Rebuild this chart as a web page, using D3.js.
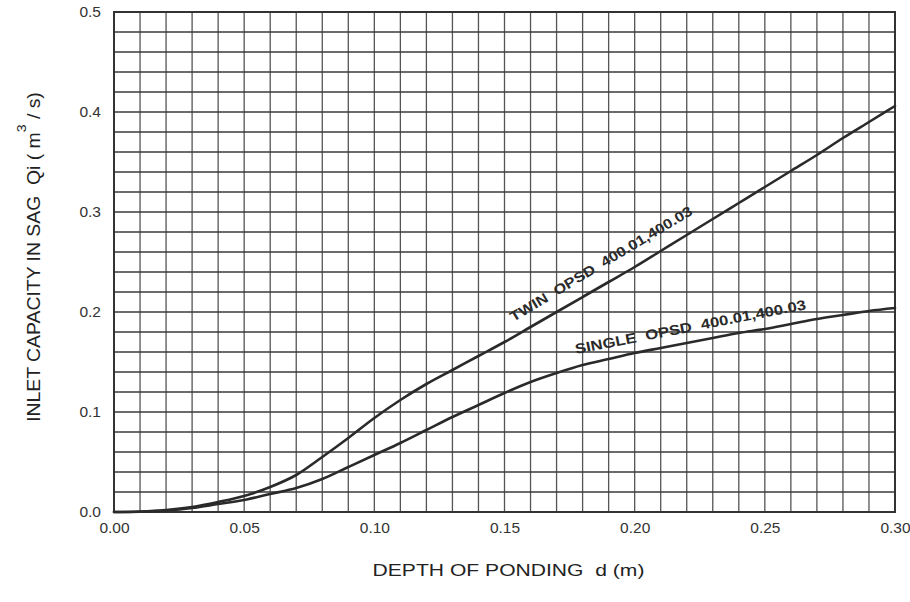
<!DOCTYPE html>
<html>
<head>
<meta charset="utf-8">
<script src="https://cdn.jsdelivr.net/npm/d3@7/dist/d3.min.js"></script>
<style>
  html, body { margin: 0; padding: 0; background: #ffffff; }
  svg { display: block; }
  text { font-family: "Liberation Sans", Arial, sans-serif; }
</style>
</head>
<body>
<svg id="chart" width="910" height="602"></svg>
<script>
// Depth of ponding d (m)
const depth = [0.00, 0.01, 0.02, 0.03, 0.04, 0.05, 0.06, 0.07, 0.08, 0.09, 0.10,
               0.11, 0.12, 0.13, 0.14, 0.15, 0.16, 0.17, 0.18, 0.19, 0.20,
               0.21, 0.22, 0.23, 0.24, 0.25, 0.26, 0.27, 0.28, 0.29, 0.30];

// Inlet capacity in sag Qi (m3/s), twin grates
const twinQ = [0.000, 0.0005, 0.002, 0.005, 0.010, 0.016, 0.025, 0.037, 0.055, 0.074, 0.094,
               0.112, 0.128, 0.142, 0.156, 0.170, 0.185, 0.200, 0.215, 0.230, 0.245,
               0.261, 0.277, 0.293, 0.309, 0.325, 0.341, 0.357, 0.374, 0.390, 0.406];

// Inlet capacity in sag Qi (m3/s), single grate
const singleQ = [0.000, 0.0003, 0.0015, 0.004, 0.008, 0.012, 0.018, 0.024, 0.033, 0.045, 0.057,
                 0.069, 0.082, 0.095, 0.107, 0.119, 0.130, 0.139, 0.147, 0.153, 0.159,
                 0.164, 0.169, 0.174, 0.179, 0.183, 0.188, 0.193, 0.197, 0.201, 0.204];

const xTickValues = [0.00, 0.05, 0.10, 0.15, 0.20, 0.25, 0.30];
const xTickLabels = ["0.00", "0.05", "0.10", "0.15", "0.20", "0.25", "0.30"];
const yTickValues = [0.0, 0.1, 0.2, 0.3, 0.4, 0.5];
const yTickLabels = ["0.0", "0.1", "0.2", "0.3", "0.4", "0.5"];

// Curve captions, anchored at a data point and turned along the curve
const captionText  = ["TWIN  OPSD  400.01,400.03", "SINGLE  OPSD  400.01,400.03"];
const captionX     = [0.1535, 0.1775];
const captionY     = [0.190, 0.158];
const captionAngle = [-31, -11];
const captionLen   = [210, 235];

const svg = d3.select("#chart");
const W = 910, H = 602;
const margin = { top: 12, right: 15, bottom: 90, left: 114 };
const iw = W - margin.left - margin.right;
const ih = H - margin.top - margin.bottom;

const x = d3.scaleLinear().domain([0, 0.30]).range([0, iw]);
const y = d3.scaleLinear().domain([0, 0.5]).range([ih, 0]);

const g = svg.append("g").attr("transform", `translate(${margin.left},${margin.top})`);

// Grid: every 0.01 m across, every 0.02 m3/s up
const xGrid = d3.range(0, 31).map(i => i * 0.01);
const yGrid = d3.range(0, 26).map(i => i * 0.02);

g.append("g").selectAll("line").data(xGrid).join("line")
  .attr("x1", d => x(d)).attr("x2", d => x(d))
  .attr("y1", 0).attr("y2", ih)
  .attr("stroke", "#555").attr("stroke-width", 1.3);

g.append("g").selectAll("line").data(yGrid).join("line")
  .attr("x1", 0).attr("x2", iw)
  .attr("y1", d => y(d)).attr("y2", d => y(d))
  .attr("stroke", "#3a3a3a").attr("stroke-width", 1.6);

// Frame
g.append("rect").attr("x", 0).attr("y", 0).attr("width", iw).attr("height", ih)
  .attr("fill", "none").attr("stroke", "#333").attr("stroke-width", 2);

// Axes (labels only, no tick marks)
const xAxis = d3.axisBottom(x).tickValues(xTickValues)
  .tickFormat((d, i) => xTickLabels[i]).tickSize(0).tickPadding(10);
const yAxis = d3.axisLeft(y).tickValues(yTickValues)
  .tickFormat((d, i) => yTickLabels[i]).tickSize(0).tickPadding(13);

const gx = g.append("g").attr("transform", `translate(0,${ih})`).call(xAxis);
const gy = g.append("g").call(yAxis);
[gx, gy].forEach(a => {
  a.select(".domain").remove();
  a.selectAll("text").attr("font-size", 15.5).attr("fill", "#333")
    .attr("font-family", "'Liberation Sans', Arial, sans-serif");
});

// Curves
const line = d3.line().x(d => x(d[0])).y(d => y(d[1])).curve(d3.curveMonotoneX);
[twinQ, singleQ].forEach(series => {
  g.append("path")
    .datum(depth.map((d, i) => [d, series[i]]))
    .attr("fill", "none").attr("stroke", "#2a2a2a")
    .attr("stroke-width", 2.6).attr("stroke-linejoin", "round").attr("stroke-linecap", "round")
    .attr("d", line);
});

// Stretch a text node along its own direction to a target length
function stretchTo(sel, len) {
  const w = sel.node().getComputedTextLength();
  return len / w;
}

// Captions along curves
captionText.forEach((t, i) => {
  const tx = g.append("text")
    .attr("font-size", 14).attr("font-weight", "bold").attr("fill", "#2a2a2a")
    .style("white-space", "pre")
    .text(t);
  const s = stretchTo(tx, captionLen[i]);
  tx.attr("transform",
    `translate(${x(captionX[i])},${y(captionY[i])}) rotate(${captionAngle[i]}) scale(${s},1)`);
});

// X axis title
const xt = svg.append("text")
  .attr("text-anchor", "middle").attr("font-size", 16).attr("fill", "#222")
  .style("white-space", "pre")
  .text("DEPTH OF PONDING  d (m)");
const sx = stretchTo(xt, 272);
xt.attr("transform", `translate(${margin.left + x(0.15) + 4},576) scale(${sx},1)`);

// Y axis title with superscript exponent
const yt = svg.append("text")
  .attr("text-anchor", "middle").attr("font-size", 18).attr("fill", "#222")
  .style("white-space", "pre");
yt.append("tspan").text("INLET CAPACITY IN SAG  Qi ( m");
yt.append("tspan").attr("dy", -14).attr("font-size", 13).text("3");
yt.append("tspan").attr("dy", 14).text(" / s)");
const wy = yt.node().getComputedTextLength();
const sy = 330 / wy;
yt.attr("transform", `translate(40,${margin.top + y(0.255)}) rotate(-90) scale(${sy},1)`);
</script>
</body>
</html>
